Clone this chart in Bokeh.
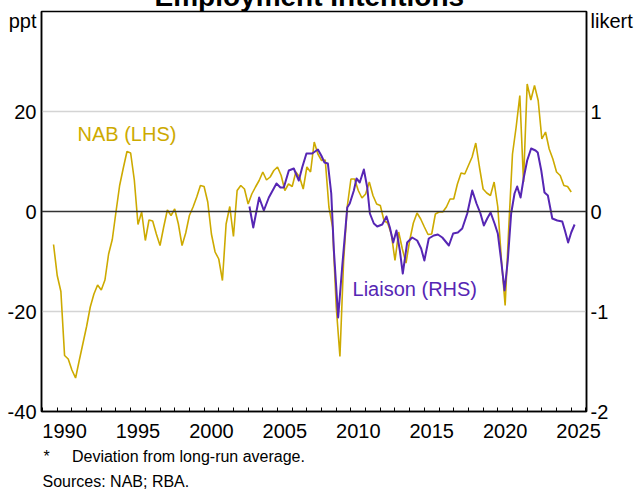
from bokeh.plotting import figure
from bokeh.models import (Range1d, LinearAxis, FixedTicker, Span, Label, Title,
                          CustomJSTickFormatter)
from bokeh.embed import file_html
from bokeh.resources import INLINE

# ---------------- data ----------------
# NAB employment intentions, ppt deviation from long-run average, quarterly from 1989 Q4
nab_start = 1989.75
nab_values = [
    -6.6,
    -12.8, -16.0, -28.8, -29.5,
    -31.7, -33.3, -29.8, -26.4,
    -23.0, -19.1, -16.5, -14.7,
    -15.7, -13.7, -8.5, -5.6,
    -0.1, 5.2, 8.7, 12.0,
    11.7, 6.3, -2.6, -0.1,
    -5.8, -1.7, -1.9, -4.5,
    -6.8, -3.1, 0.3, -0.8,
    0.5, -2.5, -6.8, -4.3,
    -0.8, 0.9, 2.9, 5.2,
    5.0, 1.9, -4.5, -8.1,
    -9.5, -13.8, -2.5, 1.0,
    -5.0, 4.2, 5.2, 4.5,
    1.5, 3.5, 4.9, 6.2,
    7.9, 6.3, 6.9, 8.2,
    8.9, 7.2, 4.2, 5.5,
    5.0, 7.9, 6.9, 4.5,
    8.9, 7.9, 13.9, 11.5,
    10.2, 10.3, 0.9, -3.1,
    -19.1, -29.0, -10.0, 1.0,
    6.5, 6.5, 4.2, 2.7,
    3.5, 5.9, 3.2, 1.5,
    1.2, -1.8, -2.3, -4.5,
    -9.8, -4.1, -7.5, -10.3,
    -5.8, -2.3, -0.3, -1.5,
    -3.1, -4.6, -4.5, -0.5,
    -0.1, -0.1, 0.9, 2.5,
    2.5, 5.5, 7.7, 7.5,
    9.2, 10.9, 13.7, 8.9,
    4.5, 3.7, 3.2, 5.9,
    0.9, -9.8, -18.8, -3.0,
    11.5, 16.9, 23.2, 5.9,
    25.5, 22.3, 25.2, 22.2,
    14.5, 15.9, 12.5, 10.5,
    7.9, 7.2, 5.2, 5.0,
    3.9,
]
nab_dates = [nab_start + 0.25 * i for i in range(len(nab_values))]

# RBA liaison employment intentions, likert (deviation from long-run average)
liaison_dates = [
    2003.09, 2003.35, 2003.75, 2004.07, 2004.41, 2004.93, 2005.20, 2005.43,
    2005.77, 2006.11, 2006.45, 2006.68, 2006.97, 2007.36, 2007.75, 2007.98,
    2008.20, 2008.43, 2008.66, 2008.84, 2009.13, 2009.40, 2009.75, 2009.92,
    2010.20, 2010.38, 2010.60, 2010.88, 2011.11, 2011.29, 2011.56, 2011.79,
    2012.13, 2012.42, 2012.65, 2012.88, 2013.10, 2013.33, 2013.53, 2013.83,
    2014.17, 2014.51, 2014.78, 2015.00, 2015.30, 2015.64, 2015.92, 2016.22,
    2016.67, 2016.96, 2017.28, 2017.58, 2017.92, 2018.26, 2018.55, 2018.82,
    2019.05, 2019.28, 2019.51, 2019.78, 2020.00, 2020.23, 2020.46, 2020.68,
    2020.91, 2021.14, 2021.32, 2021.55, 2021.77, 2022.00, 2022.27, 2022.57,
    2022.72, 2022.96, 2023.18, 2023.41, 2023.71, 2024.05, 2024.39, 2024.57,
    2024.79, 2025.00, 2025.23,
]
liaison_values = [
    0.05, -0.16, 0.14, 0.01, 0.14, 0.28, 0.24, 0.24,
    0.41, 0.43, 0.31, 0.44, 0.58, 0.58, 0.62, 0.56,
    0.49, 0.48, 0.18, -0.39, -1.06, -0.56, 0.04, 0.08,
    0.21, 0.33, 0.29, 0.42, 0.24, -0.02, -0.12, -0.15,
    -0.13, -0.05, -0.16, -0.31, -0.19, -0.39, -0.62, -0.31,
    -0.26, -0.29, -0.37, -0.49, -0.27, -0.24, -0.23, -0.26,
    -0.34, -0.22, -0.21, -0.17, -0.02, 0.21, 0.08, -0.02,
    -0.14, -0.07, -0.01, -0.12, -0.22, -0.49, -0.79, -0.49,
    -0.02, 0.18, 0.25, 0.14, 0.34, 0.51, 0.63, 0.61,
    0.59, 0.41, 0.19, 0.16, -0.07, -0.09, -0.10, -0.19,
    -0.31, -0.21, -0.13,
]

year_label_ticks = [1990.5, 1995.5, 2000.5, 2005.5, 2010.5, 2015.5, 2020.5, 2025.5]
year_minor_ticks = list(range(1989, 2027))
lhs_ticks = [-40, -20, 0, 20, 38.2]     # top tick carries the unit label
rhs_ticks = [-2, -1, 0, 1, 1.91]
grid_ticks = [-20, 20]
lhs_unit = "ppt"
rhs_unit = "likert"

title_text = "Employment Intentions"
footnote_text = "*\u00a0\u00a0\u00a0\u00a0\u00a0Deviation from long-run average."
sources_text = "Sources: NAB; RBA."

# ---------------- styling ----------------
FONT = "Liberation Sans"
NAB_COLOR = "#CDAA00"
LIAISON_COLOR = "#5626B4"

p = figure(width=636, height=518, output_backend="svg", toolbar_location=None,
           x_range=Range1d(1988.93, 2026.04), y_range=Range1d(-40, 40),
           min_border_left=41, min_border_right=50, min_border_top=36,
           min_border_bottom=82)
p.margin = (-25, 0, -24, 0)
p.background_fill_color = "white"
p.border_fill_color = "white"
p.outline_line_color = "black"
p.outline_line_width = 1.5

# title (mostly above the visible page, as in the reference)
p.title.text = title_text
p.title.text_font = FONT
p.title.text_font_size = "28px"
p.title.text_font_style = "bold"
p.title.text_color = "black"
p.title.align = "left"
p.title.offset = 113
p.title.standoff = 0

# grid
p.xgrid.visible = False
p.ygrid.ticker = FixedTicker(ticks=grid_ticks)
p.ygrid.grid_line_color = "#d4d4d4"
p.ygrid.grid_line_width = 1.5

# x axis
xa = p.xaxis[0]
xa.ticker = FixedTicker(ticks=year_label_ticks, minor_ticks=year_minor_ticks)
xa.formatter = CustomJSTickFormatter(code="return Math.floor(tick).toFixed(0);")
xa.major_tick_in = 0
xa.major_tick_out = 0
xa.minor_tick_in = 4
xa.minor_tick_out = 0
xa.minor_tick_line_color = "black"
xa.minor_tick_line_width = 1
xa.axis_line_color = "black"
xa.axis_line_width = 1.5
xa.major_label_standoff = 12
xa.major_label_text_font = FONT
xa.major_label_text_font_size = "20px"
xa.major_label_text_color = "black"

# left axis
ya = p.yaxis[0]
ya.ticker = FixedTicker(ticks=lhs_ticks)
ya.formatter = CustomJSTickFormatter(
    args=dict(unit=lhs_unit),
    code="return tick > 30 ? unit : tick.toFixed(0);")
ya.major_tick_in = 0
ya.major_tick_out = 0
ya.minor_tick_in = 0
ya.minor_tick_out = 0
ya.axis_line_color = "black"
ya.axis_line_width = 1.5
ya.major_label_standoff = 5
ya.major_label_text_font = FONT
ya.major_label_text_font_size = "20px"
ya.major_label_text_color = "black"

# right axis
p.extra_y_ranges = {"rhs": Range1d(-2, 2)}
ra = LinearAxis(y_range_name="rhs", ticker=FixedTicker(ticks=rhs_ticks))
ra.formatter = CustomJSTickFormatter(
    args=dict(unit=rhs_unit),
    code="return tick > 1.5 ? unit : tick.toFixed(0);")
ra.major_tick_in = 0
ra.major_tick_out = 0
ra.minor_tick_in = 0
ra.minor_tick_out = 0
ra.axis_line_color = "black"
ra.axis_line_width = 1.5
ra.major_label_standoff = 4
ra.major_label_text_font = FONT
ra.major_label_text_font_size = "20px"
ra.major_label_text_color = "black"
p.add_layout(ra, "right")

# zero line
p.add_layout(Span(location=0, dimension="width", line_color="#333333", line_width=1.5))

# series
p.line(nab_dates, nab_values, line_color=NAB_COLOR, line_width=1.6)
p.line(liaison_dates, liaison_values, y_range_name="rhs", line_color=LIAISON_COLOR,
       line_width=2, line_join="round")

# series labels (inside the frame)
p.add_layout(Label(x=1991.38, y=15.6, text="NAB (LHS)", text_color=NAB_COLOR,
                   text_font=FONT, text_font_size="20px", text_baseline="middle"))
p.add_layout(Label(x=2010.11, y=-15.4, text="Liaison (RHS)", text_color=LIAISON_COLOR,
                   text_font=FONT, text_font_size="20px", text_baseline="middle"))

# footnotes as titles below the x axis
p.add_layout(Title(text=footnote_text, align="left", offset=2, standoff=11,
                   text_font=FONT, text_font_size="16px", text_font_style="normal",
                   text_color="black"), "below")
p.add_layout(Title(text=sources_text, align="left", offset=1, standoff=0,
                   text_font=FONT, text_font_size="16px", text_font_style="normal",
                   text_color="black"), "below")

open("out.html", "w").write(file_html(p, INLINE))
